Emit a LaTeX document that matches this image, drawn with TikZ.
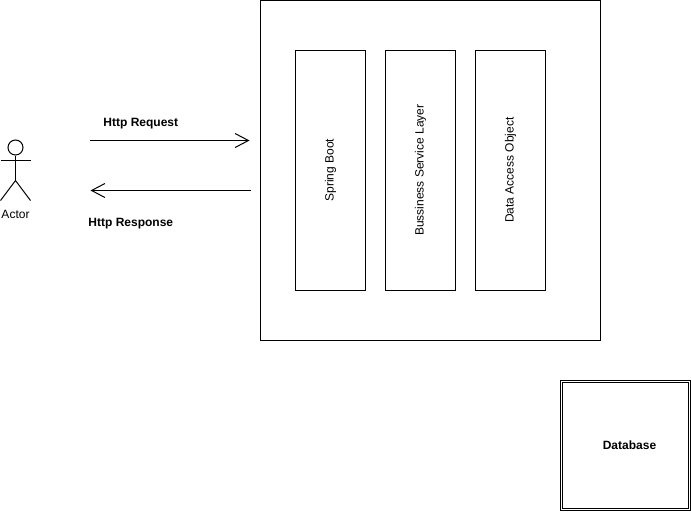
\documentclass[tikz,border=0pt]{standalone}
\usepackage{fontspec}
\setmainfont{Liberation Sans}
\usetikzlibrary{arrows.meta}
\begin{document}
\begin{tikzpicture}[x=0.75pt,y=-0.75pt,line width=0.75pt,
  every node/.style={font=\fontsize{9}{11}\selectfont,inner sep=0pt},
  layer/.style={draw=black,fill=white,minimum width=70*0.75pt,minimum height=240*0.75pt},
  lbl/.style={font=\fontsize{9}{11}\selectfont\bfseries},
  flow/.style={-{Straight Barb[length=10pt,width=10.5pt]},line width=0.75pt}]
\useasboundingbox (0,0) rectangle (691,511);
\node[draw=black,fill=white,minimum width=340*0.75pt,minimum height=340*0.75pt] (app) at (430.5,170.5) {};
\node[layer] (sb) at (330.5,170.5) {};
\node[layer] (bs) at (420.5,170.5) {};
\node[layer] (da) at (510.5,170.5) {};
\node[rotate=90] (sbt) at (330.5,170) {Spring Boot};
\node[rotate=90] (bst) at (420.5,170) {Bussiness Service Layer};
\node[rotate=90] (dat) at (510.5,170) {Data Access Object};
\node[draw=black,fill=white,minimum width=130*0.75pt,minimum height=130*0.75pt] (db) at (625.5,445.5) {};
\node[draw=black,minimum width=126*0.75pt,minimum height=126*0.75pt] (dbi) at (625.5,445.5) {};
\node[lbl] (dbt) at (629.5,445) {Database};
\coordinate (rs) at (90,140.5); \coordinate (re) at (249.5,140.5);
\coordinate (ps) at (250.5,190.5); \coordinate (pe) at (90.5,190.5);
\draw[flow] (rs) -- (re);
\draw[flow] (ps) -- (pe);
\node[lbl] (rq) at (140.8,124) {Http Request};
\node[lbl] (rp) at (130.8,224) {Http Response};
\coordinate (hip) at (15.5,180.5);
\node[draw=black,circle,minimum size=15*0.75pt] (head) at (15.5,147.5) {};
\coordinate (al) at (0.5,160.5); \coordinate (ar) at (30.5,160.5);
\coordinate (ll) at (0.5,200.5); \coordinate (lr) at (30.5,200.5);
\draw (head.south) -- (hip);
\draw (al) -- (ar);
\draw (ll) -- (hip) -- (lr);
\node (actor) at (15.5,214.5) {Actor};
\end{tikzpicture}
\end{document}
